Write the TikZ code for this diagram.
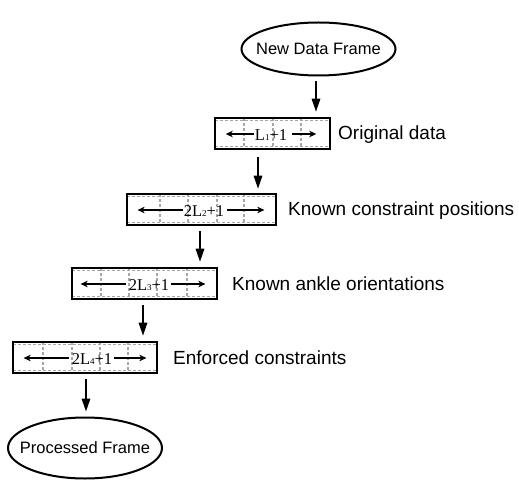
\documentclass[tikz,border=0pt]{standalone}
\usepackage{fontspec}
\setmainfont{Liberation Serif}
\newfontfamily\arialf{Liberation Sans}
\usetikzlibrary{arrows.meta,shapes.geometric,calc}
\newcommand\subd[1]{{\fontsize{9}{9}\selectfont\raisebox{-0.5pt}{#1}}}
\newcommand\mkcells[6]{%
  \draw[gridln] (#2,#3+2.6) -- (#4,#3+2.6) (#2,#5-2.6) -- (#4,#5-2.6);
  \foreach \cx in {#6} {\draw[gridln] (\cx,#3) -- (\cx,#5);}
  \node[cellbox,minimum width={#4-#2},minimum height={#5-#3}] (#1) at ({(#2+#4)/2},{(#3+#5)/2}) {};
}
\begin{document}
\begin{tikzpicture}[x=1pt,y=-1pt,
  ell/.style={draw,line width=2pt,ellipse,inner sep=0pt,font=\arialf\fontsize{16.5}{18}\selectfont},
  cellbox/.style={draw,line width=2.6pt,rectangle,inner sep=0pt},
  gridln/.style={black!35,line width=1.3pt,dash pattern=on 3pt off 2pt},
  flow/.style={line width=1.6pt,-{Triangle[width=8.5pt,length=13pt]}},
  span/.style={line width=1.3pt,-{Stealth[width=6.5pt,length=7pt,inset=2pt]}},
  lbl/.style={anchor=west,inner sep=0pt,font=\arialf\fontsize{19}{21}\selectfont},
  btxt/.style={inner sep=0pt,font=\fontsize{16.5}{18}\selectfont}]
\useasboundingbox (0,0) rectangle (519,481);

% ellipses
\node[ell,minimum width=154pt,minimum height=53pt] (e1) at (318.5,49) {\makebox[0pt]{New Data Frame}};
\node[ell,minimum width=154pt,minimum height=61pt] (e2) at (85,448) {\makebox[0pt]{Processed Frame}};

% boxes
\mkcells{b1}{215}{118}{330}{149}{244,273,301}
\mkcells{b2}{127}{194}{276}{225}{160,188,217,244}
\mkcells{b3}{72}{268}{217}{299}{101,129,157,187}
\mkcells{b4}{13}{342}{157}{373}{43,72,100,128}

% box texts
\node[btxt] (t1) at (271,135) {L\subd{1}+1};
\node[btxt] (t2) at (204,211) {2L\subd{2}+1};
\node[btxt] (t3) at (149,285) {2L\subd{3}+1};
\node[btxt] (t4) at (92,359) {2L\subd{4}+1};

\draw[span] ([xshift=-1pt,yshift=1pt]t1.west) -- ++(-28,0);
\draw[span] ([xshift=5pt,yshift=1pt]t1.east) -- ++(24,0);
\draw[span] ([xshift=-1pt,yshift=1pt]t2.west) -- ++(-45,0);
\draw[span] ([xshift=3pt,yshift=1pt]t2.east) -- ++(37,0);
\draw[span] ([xshift=-3pt,yshift=1pt]t3.west) -- ++(-45,0);
\draw[span] ([xshift=2pt,yshift=1pt]t3.east) -- ++(34,0);
\draw[span] ([xshift=-3pt,yshift=1pt]t4.west) -- ++(-45,0);
\draw[span] ([xshift=2pt,yshift=1pt]t4.east) -- ++(32,0);

% labels
\node[lbl] (l1) at (338,135) {Original data};
\node[lbl] (l2) at (288,211) {Known constraint positions};
\node[lbl] (l3) at (232,284) {Known ankle orientations};
\node[lbl] (l4) at (173,358) {Enforced constraints};

% flow arrows
\coordinate (x1) at (316,0);
\coordinate (x2) at (258,0);
\coordinate (x3) at (200,0);
\coordinate (x4) at (143,0);
\coordinate (x5) at (86,0);
\draw[flow] ([yshift=-5pt]e1.south -| x1) -- ([yshift=5pt]b1.north -| x1);
\draw[flow] ([yshift=-7pt]b1.south -| x2) -- ([yshift=4pt]b2.north -| x2);
\draw[flow] ([yshift=-5pt]b2.south -| x3) -- ([yshift=5pt]b3.north -| x3);
\draw[flow] ([yshift=-5pt]b3.south -| x4) -- ([yshift=5pt]b4.north -| x4);
\draw[flow] ([yshift=-5pt]b4.south -| x5) -- ([yshift=5pt]e2.north -| x5);
\end{tikzpicture}
\end{document}
